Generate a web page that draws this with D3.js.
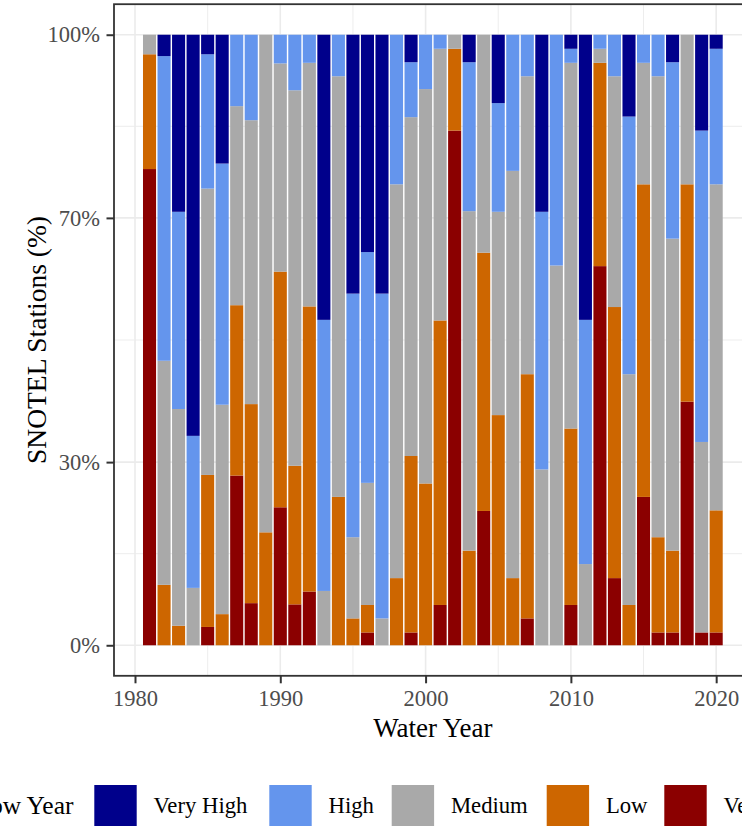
<!DOCTYPE html>
<html>
<head>
<meta charset="utf-8">
<script src="https://cdn.jsdelivr.net/npm/d3@7"></script>
<style>
  html, body { margin: 0; padding: 0; background: #fff; overflow: hidden; }
  svg { display: block; font-family: "Liberation Serif", "Times New Roman", serif; }
</style>
</head>
<body>
<svg id="chart" width="742" height="826"></svg>
<script>
// Water years shown on the x axis
const years = [1981, 1982, 1983, 1984, 1985, 1986, 1987, 1988, 1989, 1990,
               1991, 1992, 1993, 1994, 1995, 1996, 1997, 1998, 1999, 2000,
               2001, 2002, 2003, 2004, 2005, 2006, 2007, 2008, 2009, 2010,
               2011, 2012, 2013, 2014, 2015, 2016, 2017, 2018, 2019, 2020];

// Share of SNOTEL stations (%) in each snow-year class, per water year
const veryLow  = [78.0, 0, 0, 0, 3.0, 0, 27.8, 6.9, 0, 22.6,
                  6.7, 8.8, 0, 0, 0, 2.1, 0, 0, 2.1, 0,
                  6.6, 84.3, 0, 22.0, 0, 0, 4.4, 0, 0, 6.6,
                  0, 62.1, 11.0, 0, 24.3, 2.1, 2.1, 39.9, 2.1, 2.1];
const low      = [18.8, 9.9, 3.2, 0, 24.9, 5.1, 27.9, 32.6, 18.5, 38.6,
                  22.7, 46.7, 0, 24.3, 4.4, 4.5, 0, 11.0, 28.9, 26.5,
                  46.6, 13.4, 15.5, 42.3, 37.7, 11.0, 40.0, 0, 0, 28.9,
                  0, 33.3, 44.4, 6.6, 51.2, 15.6, 13.4, 35.6, 0, 20.0];
const medium   = [3.2, 36.7, 35.5, 9.4, 46.9, 34.3, 32.6, 46.5, 81.5, 34.1,
                  61.5, 39.9, 8.9, 68.9, 13.3, 20.0, 4.4, 64.5, 55.5, 64.6,
                  44.5, 2.3, 55.6, 35.7, 33.3, 66.7, 48.8, 28.8, 62.2, 59.9,
                  13.3, 2.3, 37.8, 37.8, 19.9, 75.5, 51.1, 24.5, 31.2, 53.4];
const high     = [0, 49.9, 32.3, 24.9, 22.0, 39.5, 11.7, 14.0, 0, 4.7,
                  9.1, 4.6, 44.4, 6.8, 39.9, 37.8, 53.2, 24.5, 9.0, 8.9,
                  2.3, 0, 24.4, 0, 17.8, 22.3, 6.8, 42.2, 37.8, 2.3,
                  40.0, 2.3, 6.8, 42.2, 4.6, 6.8, 28.9, 0, 51.0, 22.2];
const veryHigh = [0, 3.5, 29.0, 65.7, 3.2, 21.1, 0, 0, 0, 0,
                  0, 0, 46.7, 0, 42.4, 35.6, 42.4, 0, 4.5, 0,
                  0, 0, 4.5, 0, 11.2, 0, 0, 29.0, 0, 2.3,
                  46.7, 0, 0, 13.4, 0, 0, 4.5, 0, 15.7, 2.3];

// Classes, bottom of the stack first
const categories = ["Very Low", "Low", "Medium", "High", "Very High"];
const classColors = ["#8B0000", "#CD6600", "#A9A9A9", "#6495ED", "#00008B"];

// Axis ticks
const xTicks = [1980, 1990, 2000, 2010, 2020];
const xMinor = [1985, 1995, 2005, 2015];
const yTicks = [0, 0.3, 0.7, 1];
const yTickLabels = ["0%", "30%", "70%", "100%"];
const yMinor = [0.15, 0.5, 0.85];

const seriesByClass = {
  "Very Low": veryLow, "Low": low, "Medium": medium, "High": high, "Very High": veryHigh
};
const rows = years.map((yr, i) => {
  const r = { year: yr };
  categories.forEach(c => { r[c] = seriesByClass[c][i]; });
  return r;
});

const svg = d3.select("#chart");
const color = d3.scaleOrdinal().domain(categories).range(classColors);

// Panel geometry
const panel = { left: 114, right: 751.7, top: 4.2, bottom: 675.8 };
const x = d3.scaleLinear().domain([1978.555, 2022.445]).range([panel.left, panel.right]);
const y = d3.scaleLinear().domain([-0.05, 1.05]).range([panel.bottom, panel.top]);

svg.append("defs").append("clipPath").attr("id", "panel-clip")
  .append("rect")
  .attr("x", panel.left).attr("y", panel.top)
  .attr("width", panel.right - panel.left).attr("height", panel.bottom - panel.top);

const plot = svg.append("g").attr("clip-path", "url(#panel-clip)");

// Grid lines
const grid = plot.append("g").attr("stroke", "#ebebeb").attr("fill", "none");
grid.selectAll(".xminor").data(xMinor).join("line")
  .attr("x1", d => x(d)).attr("x2", d => x(d))
  .attr("y1", panel.top).attr("y2", panel.bottom).attr("stroke-width", 0.9);
grid.selectAll(".yminor").data(yMinor).join("line")
  .attr("y1", d => y(d)).attr("y2", d => y(d))
  .attr("x1", panel.left).attr("x2", panel.right).attr("stroke-width", 0.9);
grid.selectAll(".xmajor").data(xTicks).join("line")
  .attr("x1", d => x(d)).attr("x2", d => x(d))
  .attr("y1", panel.top).attr("y2", panel.bottom).attr("stroke-width", 1.6);
grid.selectAll(".ymajor").data(yTicks).join("line")
  .attr("y1", d => y(d)).attr("y2", d => y(d))
  .attr("x1", panel.left).attr("x2", panel.right).attr("stroke-width", 1.6);

// Stacked 100% bars
const stacked = d3.stack().keys(categories).offset(d3.stackOffsetExpand)(rows);
const barWidth = (x(1) - x(0)) * 0.9;

plot.append("g").selectAll("g").data(stacked).join("g")
  .attr("fill", d => color(d.key))
  .selectAll("rect").data(d => d).join("rect")
  .attr("x", d => x(d.data.year) - barWidth / 2)
  .attr("width", barWidth)
  .attr("y", d => y(d[1]))
  .attr("height", d => Math.max(0, y(d[0]) - y(d[1])));

// Panel border
svg.append("rect")
  .attr("x", panel.left).attr("y", panel.top)
  .attr("width", panel.right - panel.left).attr("height", panel.bottom - panel.top)
  .attr("fill", "none").attr("stroke", "#333333").attr("stroke-width", 1.8);

// Axes
const yAxis = svg.append("g")
  .attr("transform", `translate(${panel.left},0)`)
  .call(d3.axisLeft(y).tickValues(yTicks)
    .tickFormat((d, i) => yTickLabels[i]).tickSize(7.5).tickPadding(6.5));
const xAxis = svg.append("g")
  .attr("transform", `translate(0,${panel.bottom})`)
  .call(d3.axisBottom(x).tickValues(xTicks)
    .tickFormat(d3.format("d")).tickSize(7.5).tickPadding(6.7));

[xAxis, yAxis].forEach(a => {
  a.select(".domain").remove();
  a.selectAll(".tick line").attr("stroke", "#333333").attr("stroke-width", 2);
  a.selectAll(".tick text")
    .attr("fill", "#4d4d4d")
    .style("font-family", '"Liberation Serif", "Times New Roman", serif')
    .style("font-size", "22.5px");
});

// Axis titles
svg.append("text")
  .attr("transform", `translate(45.5,${(panel.top + panel.bottom) / 2}) rotate(-90)`)
  .attr("text-anchor", "middle")
  .style("font-size", "27.5px").attr("fill", "#000")
  .text("SNOTEL Stations (%)");

svg.append("text")
  .attr("x", (panel.left + panel.right) / 2).attr("y", 736.7)
  .attr("text-anchor", "middle")
  .style("font-size", "27px").attr("fill", "#000")
  .text("Water Year");

// Legend (top class first), a horizontal row below the axis title
const legend = svg.append("g");
legend.append("text")
  .attr("x", 73.5).attr("y", 813.5)
  .attr("text-anchor", "end")
  .style("font-size", "25.5px").attr("fill", "#000")
  .text("Snow Year");

const keySize = 42.4;
const keyX = [94.3, 269.3, 391.7, 546.7, 664.3];
categories.slice().reverse().forEach((c, i) => {
  legend.append("rect")
    .attr("x", keyX[i]).attr("y", 785)
    .attr("width", keySize).attr("height", keySize)
    .attr("fill", color(c));
  legend.append("text")
    .attr("x", keyX[i] + keySize + 16.8).attr("y", 813.3)
    .style("font-size", "22.7px").attr("fill", "#000")
    .text(c);
});
</script>
</body>
</html>
